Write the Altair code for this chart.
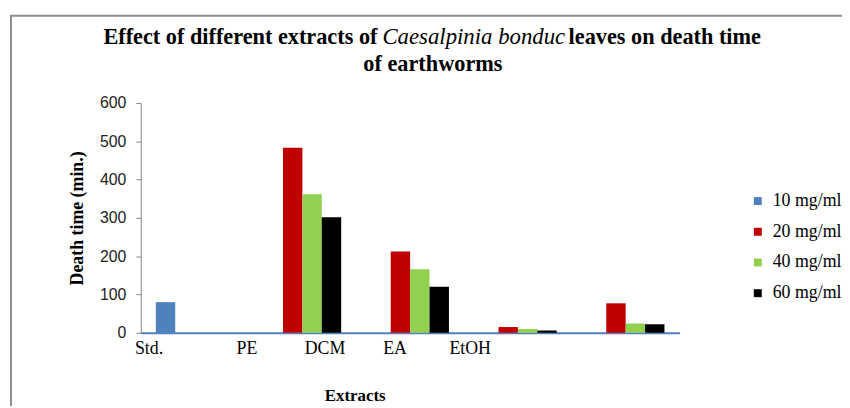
import altair as alt
import pandas as pd

categories = ["Std.", "PE", "DCM", "EA", "EtOH"]
series = ["10 mg/ml", "20 mg/ml", "40 mg/ml", "60 mg/ml"]
v10 = [80, 0, 0, 0, 0]
v20 = [0, 483, 212, 15, 77]
v40 = [0, 362, 166, 10, 24]
v60 = [0, 302, 120, 6, 22]
colors = ["#4F81BD", "#C00000", "#92D050", "#000000"]
y_ticks = [0, 100, 200, 300, 400, 500, 600]
label_shift = [-46, -56, -86, -124, -157]

title_a = "Effect of different extracts of"
title_b = "Caesalpinia bonduc"
title_c = "leaves on death time"
title_d = "of earthworms"

rows = []
for s, vals in zip(series, [v10, v20, v40, v60]):
    for c, v in zip(categories, vals):
        rows.append({"extract": c, "series": s, "time": v})
df = pd.DataFrame(rows)

label_offset = {
    "condition": [
        {"test": f"datum.value === '{c}'", "value": o}
        for c, o in zip(categories, label_shift)
    ],
    "value": 0,
}

bars = alt.Chart(df).mark_bar().encode(
    x=alt.X(
        "extract:N",
        sort=categories,
        scale=alt.Scale(paddingInner=0.28, paddingOuter=0.14),
        axis=alt.Axis(
            title="Extracts",
            titleFont="Liberation Serif",
            titleFontSize=17,
            titleFontWeight="bold",
            titleColor="black",
            titleX=216,
            titleY=63,
            titleBaseline="middle",
            titleAlign="center",
            labelFont="Liberation Serif",
            labelFontSize=18,
            labelColor="black",
            labelAngle=0,
            labelPadding=7,
            labelOffset=label_offset,
            ticks=False,
            domainColor="#4F81BD",
            domainWidth=2,
        ),
    ),
    xOffset=alt.XOffset(
        "series:N", sort=series, scale=alt.Scale(paddingInner=0, paddingOuter=0)
    ),
    y=alt.Y(
        "time:Q",
        scale=alt.Scale(domain=[0, 600]),
        axis=alt.Axis(
            title="Death time (min.)",
            titleFont="Liberation Serif",
            titleFontSize=18,
            titleFontWeight="bold",
            titleColor="black",
            titlePadding=13,
            labelFont="Liberation Sans",
            labelFontSize=16,
            labelColor="#222222",
            labelPadding=10,
            tickColor="#888888",
            tickSize=5,
            domainColor="#888888",
            grid=False,
            values=y_ticks,
        ),
    ),
    color=alt.Color(
        "series:N",
        scale=alt.Scale(domain=series, range=colors),
        legend=alt.Legend(
            title=None,
            orient="none",
            legendX=614,
            legendY=90,
            symbolType="square",
            symbolSize=64,
            symbolStrokeWidth=0,
            labelFont="Liberation Serif",
            labelFontSize=18,
            labelColor="black",
            labelOffset=6,
            rowPadding=13,
            padding=0,
        ),
    ),
)

one = pd.DataFrame({"k": [0]})

t1 = alt.Chart(one).mark_text(
    font="Liberation Serif", fontSize=22.5, fontWeight="bold", align="right",
    baseline="alphabetic", color="black", text=title_a
).encode(x=alt.value(239), y=alt.value(-60))
t2 = alt.Chart(one).mark_text(
    font="Liberation Serif", fontSize=23, fontStyle="italic", align="left",
    baseline="alphabetic", color="black", text=title_b
).encode(x=alt.value(244), y=alt.value(-60))
t3 = alt.Chart(one).mark_text(
    font="Liberation Serif", fontSize=22.5, fontWeight="bold", align="left",
    baseline="alphabetic", color="black", text=title_c
).encode(x=alt.value(432), y=alt.value(-60))
t4 = alt.Chart(one).mark_text(
    font="Liberation Serif", fontSize=22.5, fontWeight="bold", align="center",
    baseline="alphabetic", color="black", text=title_d
).encode(x=alt.value(295), y=alt.value(-32))

frame = alt.Chart(one).mark_rect(
    filled=False, stroke="#8c8c8c", strokeWidth=2
).encode(x=alt.value(-131), x2=alt.value(800), y=alt.value(-88), y2=alt.value(400))

chart = alt.layer(frame, bars, t1, t2, t3, t4).properties(
    width=544,
    height=232,
    autosize="none",
    padding={"left": 134, "top": 94, "right": 164, "bottom": 72},
    background="white",
).configure_view(stroke=None)

chart.save("out.html", embed_options={"renderer": "svg", "actions": False})
